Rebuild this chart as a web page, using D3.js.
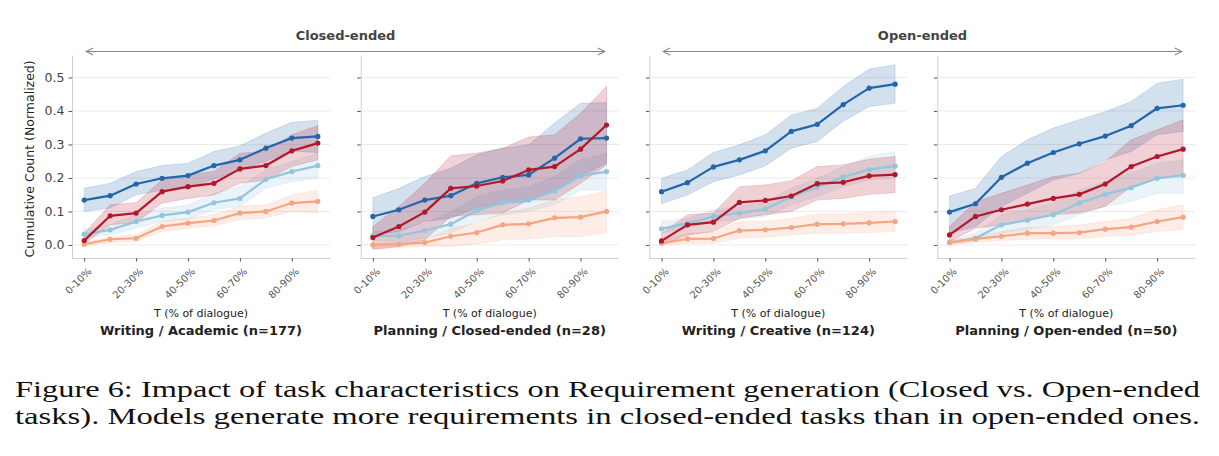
<!DOCTYPE html>
<html>
<head>
<meta charset="utf-8">
<script src="https://cdn.jsdelivr.net/npm/d3@7"></script>
<style>
  body { margin: 0; background: #fff; }
  svg { display: block; font-family: "DejaVu Sans", sans-serif; }
</style>
</head>
<body>
<div id="chart"></div>
<script>
// x categories (10 bins), only every other one is labelled
const bins = ['0-10%', '10-20%', '20-30%', '30-40%', '40-50%', '50-60%', '60-70%', '70-80%', '80-90%', '90-100%'];
const yTicks = [0.0, 0.1, 0.2, 0.3, 0.4, 0.5];
const panelTitles = ['Writing / Academic (n=177)', 'Planning / Closed-ended (n=28)', 'Writing / Creative (n=124)', 'Planning / Open-ended (n=50)'];
const groupLabels = ['Closed-ended', 'Open-ended'];
const seriesColors = ['#92c5de', '#f4a582', '#2166ac', '#b2182b']; // light blue, orange, dark blue, red

// panel 1 - Writing / Academic
const p1DarkBlue = [0.134, 0.147, 0.182, 0.199, 0.207, 0.237, 0.254, 0.289, 0.319, 0.324];
const p1DarkBlueHi = [0.169, 0.184, 0.219, 0.237, 0.244, 0.279, 0.296, 0.334, 0.366, 0.372];
const p1DarkBlueLo = [0.100, 0.110, 0.149, 0.164, 0.169, 0.196, 0.224, 0.249, 0.280, 0.276];
const p1Red = [0.013, 0.087, 0.095, 0.159, 0.174, 0.184, 0.227, 0.237, 0.281, 0.304];
const p1RedHi = [0.035, 0.120, 0.126, 0.194, 0.209, 0.219, 0.274, 0.279, 0.329, 0.356];
const p1RedLo = [0.003, 0.060, 0.067, 0.125, 0.139, 0.149, 0.184, 0.194, 0.234, 0.254];
const p1Light = [0.032, 0.045, 0.070, 0.088, 0.098, 0.126, 0.139, 0.196, 0.219, 0.237];
const p1LightHi = [0.045, 0.060, 0.090, 0.110, 0.120, 0.154, 0.174, 0.224, 0.249, 0.274];
const p1LightLo = [0.020, 0.030, 0.050, 0.070, 0.077, 0.105, 0.115, 0.169, 0.189, 0.199];
const p1Orange = [0.002, 0.017, 0.020, 0.055, 0.065, 0.073, 0.095, 0.100, 0.125, 0.130];
const p1OrangeHi = [0.007, 0.025, 0.030, 0.070, 0.080, 0.090, 0.115, 0.120, 0.149, 0.164];
const p1OrangeLo = [-0.003, 0.007, 0.010, 0.040, 0.050, 0.057, 0.075, 0.080, 0.100, 0.095];

// panel 2 - Planning / Closed-ended
const p2DarkBlue = [0.085, 0.105, 0.134, 0.147, 0.184, 0.202, 0.209, 0.259, 0.317, 0.319];
const p2DarkBlueHi = [0.141, 0.169, 0.204, 0.229, 0.269, 0.289, 0.299, 0.364, 0.423, 0.425];
const p2DarkBlueLo = [0.030, 0.040, 0.070, 0.080, 0.110, 0.125, 0.129, 0.164, 0.204, 0.244];
const p2Red = [0.022, 0.055, 0.098, 0.169, 0.176, 0.191, 0.224, 0.234, 0.286, 0.358];
const p2RedHi = [0.055, 0.115, 0.184, 0.266, 0.274, 0.289, 0.322, 0.329, 0.393, 0.473];
const p2RedLo = [-0.013, -0.005, 0.015, 0.085, 0.090, 0.095, 0.134, 0.134, 0.184, 0.239];
const p2Light = [0.027, 0.027, 0.043, 0.062, 0.103, 0.126, 0.134, 0.161, 0.206, 0.219];
const p2LightHi = [0.040, 0.045, 0.065, 0.100, 0.144, 0.164, 0.174, 0.204, 0.254, 0.274];
const p2LightLo = [0.013, 0.010, 0.020, 0.035, 0.070, 0.090, 0.100, 0.120, 0.164, 0.164];
const p2Orange = [0.000, 0.002, 0.007, 0.026, 0.037, 0.060, 0.063, 0.081, 0.083, 0.100];
const p2OrangeHi = [0.005, 0.007, 0.015, 0.050, 0.065, 0.095, 0.110, 0.134, 0.144, 0.162];
const p2OrangeLo = [-0.013, -0.007, -0.005, -0.005, 0.003, 0.015, 0.017, 0.025, 0.025, 0.037];

// panel 3 - Writing / Creative
const p3DarkBlue = [0.159, 0.186, 0.233, 0.254, 0.281, 0.339, 0.360, 0.419, 0.468, 0.480];
const p3DarkBlueHi = [0.199, 0.224, 0.276, 0.299, 0.329, 0.388, 0.408, 0.473, 0.525, 0.538];
const p3DarkBlueLo = [0.123, 0.149, 0.189, 0.209, 0.236, 0.289, 0.309, 0.369, 0.413, 0.423];
const p3Red = [0.012, 0.060, 0.068, 0.127, 0.133, 0.146, 0.183, 0.187, 0.206, 0.210];
const p3RedHi = [0.035, 0.090, 0.095, 0.174, 0.179, 0.192, 0.234, 0.239, 0.256, 0.264];
const p3RedLo = [0.000, 0.030, 0.040, 0.080, 0.090, 0.100, 0.134, 0.139, 0.151, 0.156];
const p3Light = [0.048, 0.065, 0.085, 0.095, 0.107, 0.144, 0.172, 0.203, 0.225, 0.236];
const p3LightHi = [0.070, 0.080, 0.105, 0.115, 0.129, 0.169, 0.199, 0.234, 0.264, 0.279];
const p3LightLo = [0.035, 0.050, 0.070, 0.075, 0.085, 0.120, 0.144, 0.174, 0.194, 0.199];
const p3Orange = [0.005, 0.018, 0.019, 0.043, 0.045, 0.052, 0.062, 0.063, 0.066, 0.070];
const p3OrangeHi = [0.013, 0.035, 0.037, 0.070, 0.070, 0.080, 0.093, 0.093, 0.097, 0.100];
const p3OrangeLo = [0.000, 0.005, 0.005, 0.020, 0.023, 0.030, 0.035, 0.035, 0.037, 0.040];

// panel 4 - Planning / Open-ended
const p4DarkBlue = [0.098, 0.123, 0.202, 0.244, 0.276, 0.302, 0.325, 0.356, 0.408, 0.417];
const p4DarkBlueHi = [0.146, 0.169, 0.264, 0.314, 0.349, 0.374, 0.398, 0.428, 0.483, 0.495];
const p4DarkBlueLo = [0.035, 0.055, 0.115, 0.154, 0.194, 0.214, 0.254, 0.279, 0.329, 0.339];
const p4Red = [0.030, 0.085, 0.105, 0.122, 0.139, 0.151, 0.182, 0.234, 0.264, 0.286];
const p4RedHi = [0.055, 0.129, 0.154, 0.179, 0.204, 0.214, 0.249, 0.314, 0.344, 0.374];
const p4RedLo = [0.010, 0.050, 0.060, 0.075, 0.090, 0.095, 0.115, 0.174, 0.199, 0.209];
const p4Light = [0.008, 0.020, 0.060, 0.074, 0.090, 0.125, 0.151, 0.171, 0.199, 0.208];
const p4LightHi = [0.015, 0.035, 0.090, 0.105, 0.125, 0.164, 0.189, 0.214, 0.244, 0.254];
const p4LightLo = [0.003, 0.010, 0.035, 0.045, 0.060, 0.090, 0.115, 0.129, 0.154, 0.154];
const p4Orange = [0.007, 0.018, 0.026, 0.035, 0.035, 0.037, 0.047, 0.053, 0.070, 0.083];
const p4OrangeHi = [0.013, 0.025, 0.040, 0.053, 0.055, 0.060, 0.070, 0.080, 0.105, 0.120];
const p4OrangeLo = [0.000, 0.007, 0.013, 0.017, 0.018, 0.018, 0.025, 0.030, 0.040, 0.047];

const captionLines = [
  'Figure 6: Impact of task characteristics on Requirement generation (Closed vs. Open-ended',
  'tasks). Models generate more requirements in closed-ended tasks than in open-ended ones.'
];

// series order = draw order (light blue & orange below, dark blue & red on top)
const panels = [
  [[p1Light, p1LightLo, p1LightHi], [p1Orange, p1OrangeLo, p1OrangeHi], [p1DarkBlue, p1DarkBlueLo, p1DarkBlueHi], [p1Red, p1RedLo, p1RedHi]],
  [[p2Light, p2LightLo, p2LightHi], [p2Orange, p2OrangeLo, p2OrangeHi], [p2DarkBlue, p2DarkBlueLo, p2DarkBlueHi], [p2Red, p2RedLo, p2RedHi]],
  [[p3Light, p3LightLo, p3LightHi], [p3Orange, p3OrangeLo, p3OrangeHi], [p3DarkBlue, p3DarkBlueLo, p3DarkBlueHi], [p3Red, p3RedLo, p3RedHi]],
  [[p4Light, p4LightLo, p4LightHi], [p4Orange, p4OrangeLo, p4OrangeHi], [p4DarkBlue, p4DarkBlueLo, p4DarkBlueHi], [p4Red, p4RedLo, p4RedHi]]
];

const W = 1219, H = 456;
const panelLeft = [72, 360.7, 649.3, 937.3];
const panelW = 258;
const plotTop = 55.7, plotBottom = 258;

const svg = d3.select('#chart').append('svg')
  .attr('width', W).attr('height', H);

const defs = svg.append('defs');
defs.append('marker')
  .attr('id', 'arrowhead')
  .attr('viewBox', '0 0 10 10')
  .attr('refX', 9).attr('refY', 5)
  .attr('markerWidth', 9).attr('markerHeight', 9)
  .attr('markerUnits', 'userSpaceOnUse')
  .attr('orient', 'auto-start-reverse')
  .append('path')
  .attr('d', 'M1,1 L9,5 L1,9')
  .attr('fill', 'none')
  .attr('stroke', '#888')
  .attr('stroke-width', 1.2);

const y = d3.scaleLinear().domain([-0.039, 0.565]).range([plotBottom, plotTop]);

panels.forEach((series, pi) => {
  const x0 = panelLeft[pi];
  const x = d3.scaleLinear().domain([-0.47, 9.47]).range([x0, x0 + panelW]);
  const g = svg.append('g');

  // horizontal grid
  g.selectAll('line.grid').data(yTicks).enter().append('line')
    .attr('x1', x0).attr('x2', x0 + panelW)
    .attr('y1', d => y(d)).attr('y2', d => y(d))
    .attr('stroke', '#ebebeb').attr('stroke-width', 1);

  // bands
  const area = d3.area()
    .x((d, i) => x(i))
    .y0(d => y(d[0]))
    .y1(d => y(d[1]));
  series.forEach((s, si) => {
    const pts = s[1].map((lo, i) => [lo, s[2][i]]);
    g.append('path')
      .datum(pts)
      .attr('d', area)
      .attr('fill', seriesColors[si])
      .attr('fill-opacity', 0.2)
      .attr('stroke', seriesColors[si])
      .attr('stroke-opacity', 0.2)
      .attr('stroke-width', 0.8);
  });

  // lines + markers
  const line = d3.line().x((d, i) => x(i)).y(d => y(d));
  series.forEach((s, si) => {
    g.append('path')
      .datum(s[0])
      .attr('d', line)
      .attr('fill', 'none')
      .attr('stroke', seriesColors[si])
      .attr('stroke-width', 2.2)
      .attr('stroke-linejoin', 'round');
    g.selectAll(null).data(s[0]).enter().append('circle')
      .attr('cx', (d, i) => x(i))
      .attr('cy', d => y(d))
      .attr('r', 2.6)
      .attr('fill', seriesColors[si]);
  });

  // axes
  const yAxis = g.append('g')
    .attr('transform', `translate(${x0},0)`)
    .call(d3.axisLeft(y).tickValues(yTicks).tickSize(3.5).tickPadding(4)
      .tickFormat(pi === 0 ? d3.format('.1f') : ''));
  yAxis.select('.domain').attr('d', `M0.5,${plotTop}V${plotBottom}`).attr('stroke', '#cfcfcf');
  yAxis.selectAll('.tick line').attr('stroke', '#555');
  yAxis.selectAll('.tick text')
    .attr('font-size', 12.5).attr('fill', '#444').attr('font-family', '"DejaVu Sans", sans-serif');

  const labelled = d3.range(0, 10, 2);
  const xAxis = g.append('g')
    .attr('transform', `translate(0,${plotBottom})`)
    .call(d3.axisBottom(x).tickValues(labelled).tickSize(3.5).tickFormat(() => ''));
  xAxis.select('.domain').attr('d', `M${x0},0.5H${x0 + panelW}`).attr('stroke', '#cfcfcf');
  xAxis.selectAll('.tick line').attr('stroke', '#555');

  g.selectAll('text.xt').data(labelled).enter().append('text')
    .attr('transform', d => `translate(${x(d) + 3},${plotBottom + 9}) rotate(-45)`)
    .attr('text-anchor', 'end')
    .attr('dy', '0.7em')
    .attr('font-size', 10)
    .attr('fill', '#555')
    .text(d => bins[d]);

  g.append('text')
    .attr('x', x0 + panelW / 2).attr('y', 317)
    .attr('text-anchor', 'middle')
    .attr('font-size', 11).attr('fill', '#222')
    .text('T (% of dialogue)');
  g.append('text')
    .attr('x', x0 + panelW / 2).attr('y', 335)
    .attr('text-anchor', 'middle')
    .attr('font-size', 13).attr('font-weight', 'bold').attr('fill', '#222')
    .text(panelTitles[pi]);
});

// y axis title
svg.append('text')
  .attr('transform', `translate(34,${(plotTop + plotBottom) / 2 + 2}) rotate(-90)`)
  .attr('text-anchor', 'middle')
  .attr('font-size', 12.5).attr('fill', '#222')
  .text('Cumulative Count (Normalized)');

// group headers with double arrows
const groups = [[86, 605], [663, 1182]];
groups.forEach((gx, gi) => {
  svg.append('line')
    .attr('x1', gx[0]).attr('x2', gx[1])
    .attr('y1', 51.5).attr('y2', 51.5)
    .attr('stroke', '#888').attr('stroke-width', 1.2)
    .attr('marker-start', 'url(#arrowhead)')
    .attr('marker-end', 'url(#arrowhead)');
  svg.append('text')
    .attr('x', (gx[0] + gx[1]) / 2).attr('y', 40)
    .attr('text-anchor', 'middle')
    .attr('font-size', 13).attr('font-weight', 'bold').attr('fill', '#444')
    .text(groupLabels[gi]);
});

// caption
captionLines.forEach((t, i) => {
  svg.append('text')
    .attr('x', 15).attr('y', 397 + i * 27)
    .attr('font-family', '"Liberation Serif", serif')
    .attr('font-size', 23.5).attr('fill', '#111')
    .attr('textLength', 1185)
    .attr('lengthAdjust', 'spacingAndGlyphs')
    .text(t);
});
</script>
</body>
</html>
